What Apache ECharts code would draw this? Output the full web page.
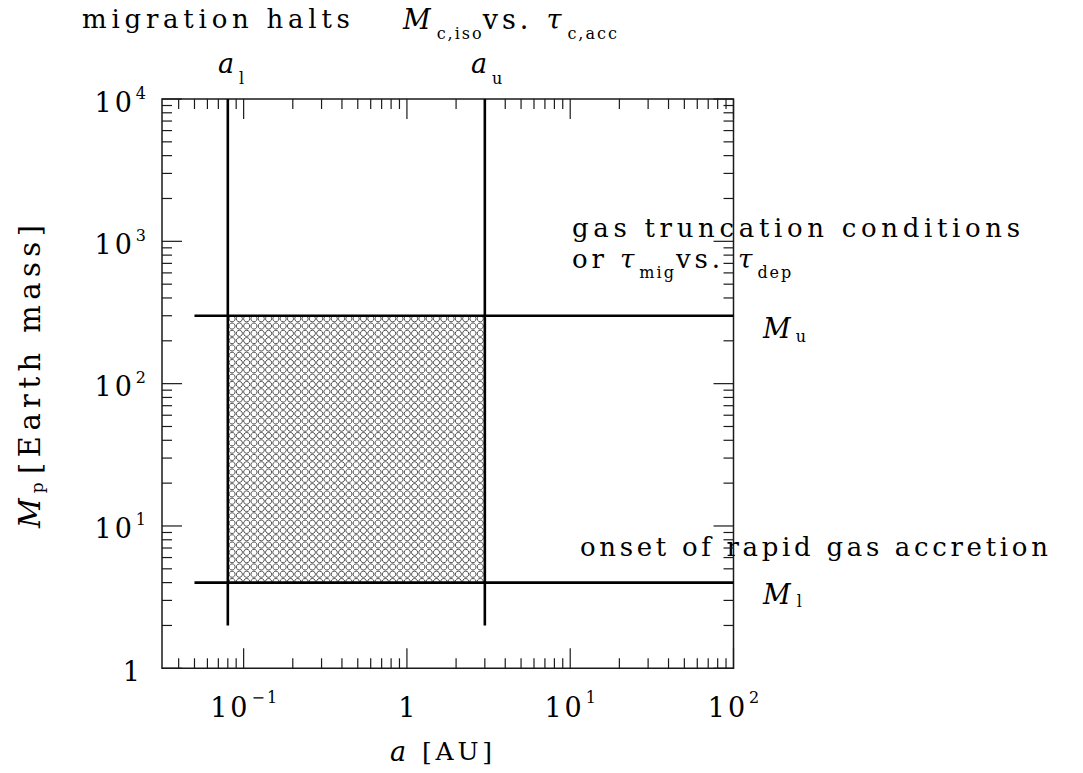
<!DOCTYPE html>
<html>
<head>
<meta charset="utf-8">
<title>Planet formation zone</title>
<script src="https://cdn.jsdelivr.net/npm/echarts@6.0.0/dist/echarts.min.js"></script>
<style>
html,body{margin:0;padding:0;background:#fff;}
#chart{width:1083px;height:773px;}
</style>
</head>
<body>
<div id="chart"></div>
<script>
// ---------------- data ----------------
const xRange = [0.0316227766, 100];      // a [AU] axis extent
const yRange = [1, 10000];               // M_p [Earth mass] axis extent
const xMajorTicks = [0.1, 1, 10, 100];
const xMajorLabels = [['10', '\u22121'], ['1', ''], ['10', '1'], ['10', '2']];
const xMinorTicks = [0.04, 0.05, 0.06, 0.07, 0.08, 0.09,
                     0.2, 0.3, 0.4, 0.5, 0.6, 0.7, 0.8, 0.9,
                     2, 3, 4, 5, 6, 7, 8, 9,
                     20, 30, 40, 50, 60, 70, 80, 90];
const yMajorTicks = [1, 10, 100, 1000, 10000];
const yMajorLabels = [['1', ''], ['10', '1'], ['10', '2'], ['10', '3'], ['10', '4']];
const yMinorTicks = [2, 3, 4, 5, 6, 7, 8, 9,
                     20, 30, 40, 50, 60, 70, 80, 90,
                     200, 300, 400, 500, 600, 700, 800, 900,
                     2000, 3000, 4000, 5000, 6000, 7000, 8000, 9000];
const aLimits = [0.08, 3];        // a_l, a_u [AU]
const mLimits = [4, 300];         // M_l, M_u [Earth mass]
const aLineSpan = [2, 10000];     // M extent of the a_l / a_u lines
const mLineSpan = [0.05, 100];    // a extent of the M_l / M_u lines

// ---------------- text helpers ----------------
const FONT = '"DejaVu Serif"';
const INK = '#1a1a1a';
const spacingReg = {};            // "size|text" -> letter spacing (px)
const mctx = document.createElement('canvas').getContext('2d');
function fontStr(size, italic) { return (italic ? 'italic ' : '') + size + 'px ' + FONT; }
function defaultLs(size) { return size >= 20 ? size * 0.15 : size * 0.125; }
function natural(s, size, italic) { mctx.font = fontStr(size, italic); return mctx.measureText(s).width; }
function textWidth(s, size, italic, ls) {
  if (!s) return 0;
  if (ls === undefined) ls = defaultLs(size);
  return natural(s, size, italic) + (s.length - 1) * ls;
}
function txt(x, y, s, size, italic, ls) {
  if (ls === undefined) ls = defaultLs(size);
  spacingReg[size + '|' + s] = ls;
  return {
    type: 'text', x: x, y: y, silent: true,
    style: {
      text: s, font: fontStr(size, italic), fill: '#000',
      textAlign: 'left', textVerticalAlign: 'middle',
      align: 'left', verticalAlign: 'middle'
    }
  };
}
// text stretched (by letter spacing) to the width it has in the reference
function txtFit(x, y, s, size, italic, width) {
  const ls = (width - natural(s, size, italic)) / (s.length - 1);
  return txt(x, y, s, size, italic, ls);
}
// fragments laid out left to right: [text, size, italic, dy, gapAfter]
function run(x, y, frags) {
  const out = []; let cx = x;
  frags.forEach(f => {
    out.push(txt(cx, y + (f[3] || 0), f[0], f[1], f[2]));
    cx += textWidth(f[0], f[1], f[2]) + (f[4] || 0);
  });
  return out;
}

// ---------------- series renderers ----------------
const tickData = []
  .concat(xMajorTicks.map(v => [v, yRange[0], 0, 1]))
  .concat(xMinorTicks.map(v => [v, yRange[0], 0, 0]))
  .concat(yMajorTicks.map(v => [xRange[0], v, 1, 1]))
  .concat(yMinorTicks.map(v => [xRange[0], v, 1, 0]));

function renderTicks(params, api) {
  const isY = api.value(2) === 1;
  const len = api.value(3) === 1 ? 20 : 10;
  const st = { stroke: INK, lineWidth: 1.2 };
  if (!isY) {
    const v = api.value(0);
    const pb = api.coord([v, yRange[0]]);
    const pt = api.coord([v, yRange[1]]);
    return { type: 'group', children: [
      { type: 'line', shape: { x1: pb[0], y1: pb[1], x2: pb[0], y2: pb[1] - len }, style: st },
      { type: 'line', shape: { x1: pt[0], y1: pt[1], x2: pt[0], y2: pt[1] + len }, style: st }
    ]};
  }
  const v = api.value(1);
  const pl = api.coord([xRange[0], v]);
  const pr = api.coord([xRange[1], v]);
  return { type: 'group', children: [
    { type: 'line', shape: { x1: pl[0], y1: pl[1], x2: pl[0] + len, y2: pl[1] }, style: st },
    { type: 'line', shape: { x1: pr[0], y1: pr[1], x2: pr[0] - len, y2: pr[1] }, style: st }
  ]};
}

const LBL = 27, EXP = 16, LBL_LS = 3;
function renderXLabels(params, api) {
  const i = api.value(2);
  const p = api.coord([api.value(0), yRange[0]]);
  const base = xMajorLabels[i][0], ex = xMajorLabels[i][1];
  const wb = textWidth(base, LBL, false, LBL_LS), we = textWidth(ex, EXP);
  const gap = ex ? 4 : 0;
  const x0 = p[0] - (wb + gap + we) / 2;
  const ch = [txt(x0, p[1] + 39, base, LBL, false, LBL_LS)];
  if (ex) ch.push(txt(x0 + wb + gap, p[1] + 29, ex, EXP));
  return { type: 'group', children: ch };
}
function renderYLabels(params, api) {
  const i = api.value(2);
  const p = api.coord([xRange[0], api.value(1)]);
  const base = yMajorLabels[i][0], ex = yMajorLabels[i][1];
  const wb = textWidth(base, LBL, false, LBL_LS), we = textWidth(ex, EXP);
  const gap = ex ? 4 : 0;
  const right = ex ? p[0] - 16 : p[0] - 22;
  const x0 = right - (wb + gap + we);
  const ch = [txt(x0, p[1] + 3, base, LBL, false, LBL_LS)];
  if (ex) ch.push(txt(x0 + wb + gap, p[1] - 6, ex, EXP));
  return { type: 'group', children: ch };
}

function renderHatch(params, api) {
  const p0 = api.coord([api.value(0), api.value(1)]);
  const p1 = api.coord([api.value(2), api.value(3)]);
  const x0 = Math.min(p0[0], p1[0]), x1 = Math.max(p0[0], p1[0]);
  const y0 = Math.min(p0[1], p1[1]), y1 = Math.max(p0[1], p1[1]);
  const pitch = 7.3, r = 3.05;
  const ch = [];
  for (let cy = y0 + 3; cy < y1 + r; cy += pitch) {
    for (let cx = x0 + r + 1.2; cx < x1 + r; cx += pitch) {
      ch.push({ type: 'circle', shape: { cx: cx, cy: cy, r: r },
                style: { fill: 'none', stroke: '#3c3c3c', lineWidth: 0.9 } });
    }
  }
  return { type: 'group', children: ch,
           clipPath: { type: 'rect', shape: { x: x0, y: y0, width: x1 - x0, height: y1 - y0 } } };
}

function lineSeries(name, pts) {
  return { name: name, type: 'line', data: pts, symbol: 'none', silent: true, z: 5,
           lineStyle: { color: '#000', width: 2.6 }, clip: false };
}

// ---------------- annotations ----------------
const annotations = [].concat(
  [txtFit(82, 19, 'migration halts', 26, false, 268)],
  run(403, 19, [['M', 27, true, 0, 6], ['c,iso', 16, false, 14, 1], ['vs.', 27, false, 0, 18],
                ['\u03C4', 27, true, 0, 6], ['c,acc', 16, false, 14, 0]]),
  run(218, 63, [['a', 27, true, 0, 5], ['l', 16, false, 15, 0]]),
  run(471, 63, [['a', 27, true, 0, 5], ['u', 16, false, 15, 0]]),
  [txtFit(572, 228, 'gas truncation conditions', 26, false, 448)],
  run(572, 259, [['or', 26, false, 0, 16], ['\u03C4', 26, true, 0, 5], ['mig', 16, false, 13, 2],
                 ['vs.', 26, false, 0, 18], ['\u03C4', 26, true, 0, 5], ['dep', 16, false, 13, 0]]),
  run(763, 328, [['M', 27, true, 0, 5], ['u', 16, false, 8, 0]]),
  [txtFit(580, 547, 'onset of rapid gas accretion', 26, false, 468)],
  run(763, 594, [['M', 27, true, 0, 6], ['l', 16, false, 7, 0]]),
  run(390, 751, [['a', 27, true, 0, 16], ['[AU]', 25, false, 0, 0]]),
  [{ type: 'group', x: 30, y: 528, rotation: Math.PI / 2, silent: true,
     children: [].concat(
       run(0, 0, [['M', 29, true, 0, 5], ['p', 17, false, 7, 0]]),
       [txtFit(54, 0, '[Earth mass]', 29, false, 249)]) }]
);

// ---------------- option ----------------
const chart = echarts.init(document.getElementById('chart'), null, { renderer: 'svg' });
const option = {
  animation: false,
  backgroundColor: '#fff',
  grid: { left: 162, top: 99, right: 349.5, bottom: 104.7, show: true,
          borderColor: INK, borderWidth: 1.5, backgroundColor: 'transparent',
          containLabel: false, outerBoundsMode: 'none' },
  xAxis: { type: 'log', logBase: 10, min: xRange[0], max: xRange[1],
           axisLine: { show: false }, axisTick: { show: false },
           axisLabel: { show: false }, splitLine: { show: false } },
  yAxis: { type: 'log', logBase: 10, min: yRange[0], max: yRange[1],
           axisLine: { show: false }, axisTick: { show: false },
           axisLabel: { show: false }, splitLine: { show: false } },
  series: [
    { name: 'allowed region', type: 'custom', renderItem: renderHatch, silent: true, z: 2,
      encode: { x: [0, 2], y: [1, 3] },
      data: [[aLimits[0], mLimits[0], aLimits[1], mLimits[1]]] },
    lineSeries('a_l', [[aLimits[0], aLineSpan[0]], [aLimits[0], aLineSpan[1]]]),
    lineSeries('a_u', [[aLimits[1], aLineSpan[0]], [aLimits[1], aLineSpan[1]]]),
    lineSeries('M_l', [[mLineSpan[0], mLimits[0]], [mLineSpan[1], mLimits[0]]]),
    lineSeries('M_u', [[mLineSpan[0], mLimits[1]], [mLineSpan[1], mLimits[1]]]),
    { name: 'ticks', type: 'custom', renderItem: renderTicks, silent: true, z: 4, clip: false,
      encode: { x: 0, y: 1 }, data: tickData },
    { name: 'x labels', type: 'custom', renderItem: renderXLabels, silent: true, clip: false,
      encode: { x: 0, y: 1 }, data: xMajorTicks.map((v, i) => [v, yRange[0], i]) },
    { name: 'y labels', type: 'custom', renderItem: renderYLabels, silent: true, clip: false,
      encode: { x: 0, y: 1 }, data: yMajorTicks.map((v, i) => [xRange[0], v, i]) }
  ],
  graphic: annotations
};
chart.setOption(option);

// letter spacing to mimic the wide plotting font (SVG text)
function applySpacing() {
  document.querySelectorAll('#chart svg text').forEach(t => {
    const fs = parseFloat(getComputedStyle(t).fontSize) || 12;
    const key = fs + '|' + t.textContent;
    const v = spacingReg[key] !== undefined ? spacingReg[key] : defaultLs(fs);
    const ls = v.toFixed(2) + 'px';
    if (t.style.letterSpacing !== ls) t.style.letterSpacing = ls;
  });
}
chart.on('finished', applySpacing);
applySpacing();
let n = 0;
const timer = setInterval(() => { applySpacing(); if (++n > 40) clearInterval(timer); }, 50);
</script>
</body>
</html>
